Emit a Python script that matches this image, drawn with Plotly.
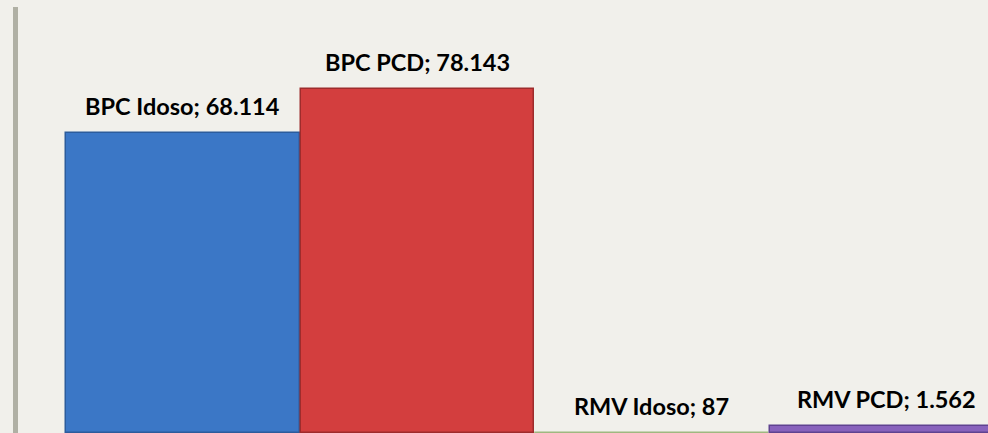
import plotly.graph_objects as go

categories = ["BPC Idoso", "BPC PCD", "RMV Idoso", "RMV PCD"]
values = [68114, 78143, 87, 1562]
colors = ["#3b77c6", "#d33e3e", "#b9cf9a", "#8862bc"]
line_colors = ["#2c5c9c", "#9e2c2c", "#9fb880", "#5f4290"]


def fmt(v):
    return f"{v:,}".replace(",", ".")


xs = list(range(len(categories)))

fig = go.Figure()
fig.add_trace(go.Bar(
    x=xs,
    y=values,
    width=0.995,
    marker=dict(color=colors, line=dict(color=line_colors, width=1.5)),
    hoverinfo="skip",
))

for i, (c, v) in enumerate(zip(categories, values)):
    fig.add_annotation(
        x=i, y=v, text=f"<b>{c}; {fmt(v)}</b>",
        showarrow=False, yanchor="middle", yshift=27,
        font=dict(family="Lato, Carlito, sans-serif", size=23.5, color="#000000"),
    )

fig.update_layout(
    width=988, height=433,
    margin=dict(l=18, r=0, t=7, b=0),
    paper_bgcolor="#f1f0eb",
    plot_bgcolor="#f1f0eb",
    showlegend=False,
    bargap=0,
    xaxis=dict(range=[-0.7036, 3.433], showgrid=False, zeroline=False,
               showticklabels=False, showline=False, fixedrange=True),
    yaxis=dict(range=[0, 96750], showgrid=False, zeroline=False,
               showticklabels=False, showline=True, linecolor="#b0b0a4",
               linewidth=5, fixedrange=True),
)

fig.write_html(
    "out.html",
    config={"displayModeBar": False},
    post_script="document.body.style.margin='0';document.body.style.overflow='hidden';document.body.style.background='#f1f0eb';",
)
